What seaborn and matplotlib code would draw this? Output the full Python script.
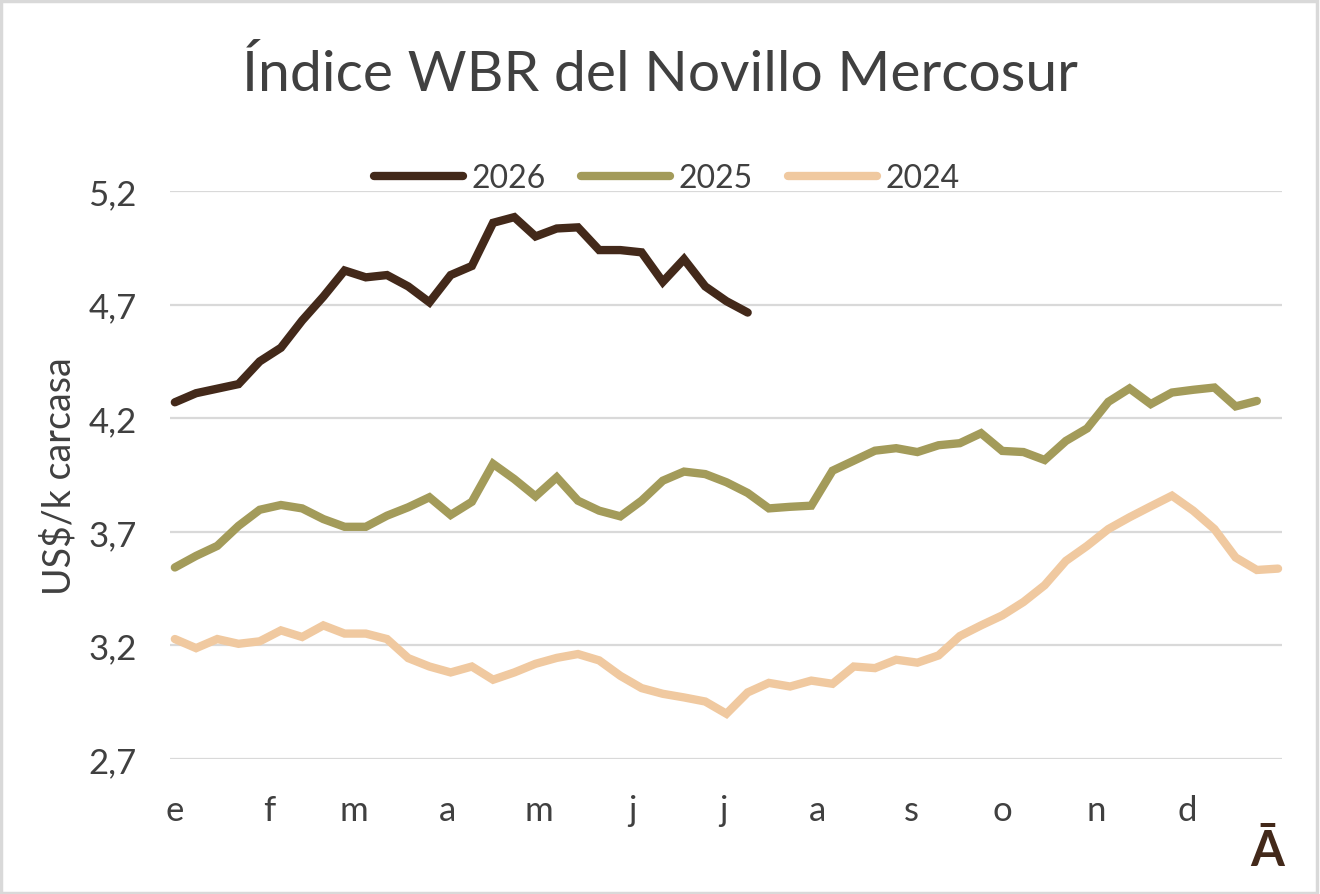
import pandas as pd
import numpy as np
import matplotlib.pyplot as plt
import seaborn as sns
from matplotlib.patches import Rectangle

# valores semanales (US$/k carcasa)
v2026 = [4.27, 4.31, 4.33, 4.35, 4.45, 4.51, 4.63, 4.735, 4.85, 4.82, 4.83, 4.78, 4.71, 4.83,
         4.87, 5.06, 5.085, 5.00, 5.035, 5.04, 4.94, 4.94, 4.93, 4.80, 4.90, 4.78, 4.715, 4.665]
v2025 = [3.543, 3.594, 3.638, 3.726, 3.797, 3.818, 3.803, 3.756, 3.722, 3.722, 3.771, 3.808,
         3.852, 3.774, 3.832, 3.999, 3.932, 3.856, 3.940, 3.837, 3.793, 3.768, 3.837, 3.925,
         3.965, 3.954, 3.918, 3.871, 3.803, 3.810, 3.815, 3.969, 4.013, 4.057, 4.068, 4.051,
         4.081, 4.090, 4.134, 4.056, 4.051, 4.016, 4.100, 4.155, 4.272, 4.331, 4.262, 4.313,
         4.325, 4.335, 4.252, 4.276]
v2024 = [3.228, 3.188, 3.228, 3.207, 3.218, 3.266, 3.237, 3.288, 3.252, 3.252, 3.228, 3.144,
         3.107, 3.081, 3.107, 3.049, 3.081, 3.119, 3.145, 3.162, 3.134, 3.066, 3.012, 2.987,
         2.971, 2.953, 2.899, 2.993, 3.035, 3.019, 3.045, 3.031, 3.107, 3.100, 3.137, 3.124,
         3.156, 3.241, 3.288, 3.332, 3.391, 3.465, 3.572, 3.638, 3.712, 3.764, 3.812, 3.859,
         3.793, 3.712, 3.587, 3.532, 3.538]

years = ['2026', '2025', '2024']
colores = ['#43291a', '#a39b5a', '#f0c9a0']
meses = ['e', 'f', 'm', 'a', 'm', 'j', 'j', 'a', 's', 'o', 'n', 'd']
dia_mes = [0, 31, 59, 90, 120, 151, 181, 212, 243, 273, 304, 334]

frames = []
for y, v in zip(years, [v2026, v2025, v2024]):
    frames.append(pd.DataFrame({'dia': np.arange(len(v)) * 7, 'valor': v, 'anio': y}))
df = pd.concat(frames, ignore_index=True)

sns.set_style('white')
plt.rcParams['font.family'] = ['Lato', 'DejaVu Sans']
gris = '#404040'

fig = plt.figure(figsize=(13.2, 8.95), dpi=100)
ax = fig.add_axes([170 / 1320, 135 / 895, 1112 / 1320, 568 / 895])

# dibujar 2024 primero para que quede detrás
for y, c in zip(years[::-1], colores[::-1]):
    sns.lineplot(data=df[df['anio'] == y], x='dia', y='valor', color=c, linewidth=6,
                 ax=ax, label=y, solid_joinstyle='miter', solid_capstyle='round')

ax.set_xlim(-1.6, 365.3)
ax.set_ylim(2.7, 5.2)
ax.set_yticks([2.7, 3.2, 3.7, 4.2, 4.7, 5.2])
ax.set_yticklabels(['2,7', '3,2', '3,7', '4,2', '4,7', '5,2'])
ax.set_xticks(dia_mes)
ax.set_xticklabels(meses)
ax.tick_params(axis='both', length=0, labelsize=25, colors=gris)
ax.tick_params(axis='x', pad=25)
ax.tick_params(axis='y', pad=24)
ax.yaxis.grid(True, color='#d9d9d9', linewidth=1.6)
ax.set_axisbelow(True)
for s in ax.spines.values():
    s.set_visible(False)
ax.set_xlabel('')
ax.set_ylabel('US$/k carcasa', fontsize=27, color=gris, labelpad=8)
for ln in ax.get_lines():
    ln.set_clip_on(False)

# leyenda
h, l = ax.get_legend_handles_labels()
orden = [l.index(y) for y in years]
ax.get_legend().remove()
fig.legend([h[i] for i in orden], [l[i] for i in orden], loc='center', ncol=3,
           bbox_to_anchor=(0.505, 1 - 179 / 895), frameon=False, fontsize=23,
           handlelength=2.8, columnspacing=1.1, handletextpad=0.25, labelcolor=gris)

fig.text(0.5, 1 - 75 / 895, 'Índice WBR del Novillo Mercosur', ha='center', va='center',
         fontsize=41, color=gris)
fig.text(1267 / 1320, 1 - 852 / 895, 'Ā', ha='center', va='center', fontsize=35,
         fontweight='bold', color='#43291a')

fig.patches.append(Rectangle((0.001, 0.001), 0.997, 0.997, transform=fig.transFigure,
                             fill=False, edgecolor='#d9d9d9', linewidth=2.5))

fig.savefig('out.png', dpi=100)
